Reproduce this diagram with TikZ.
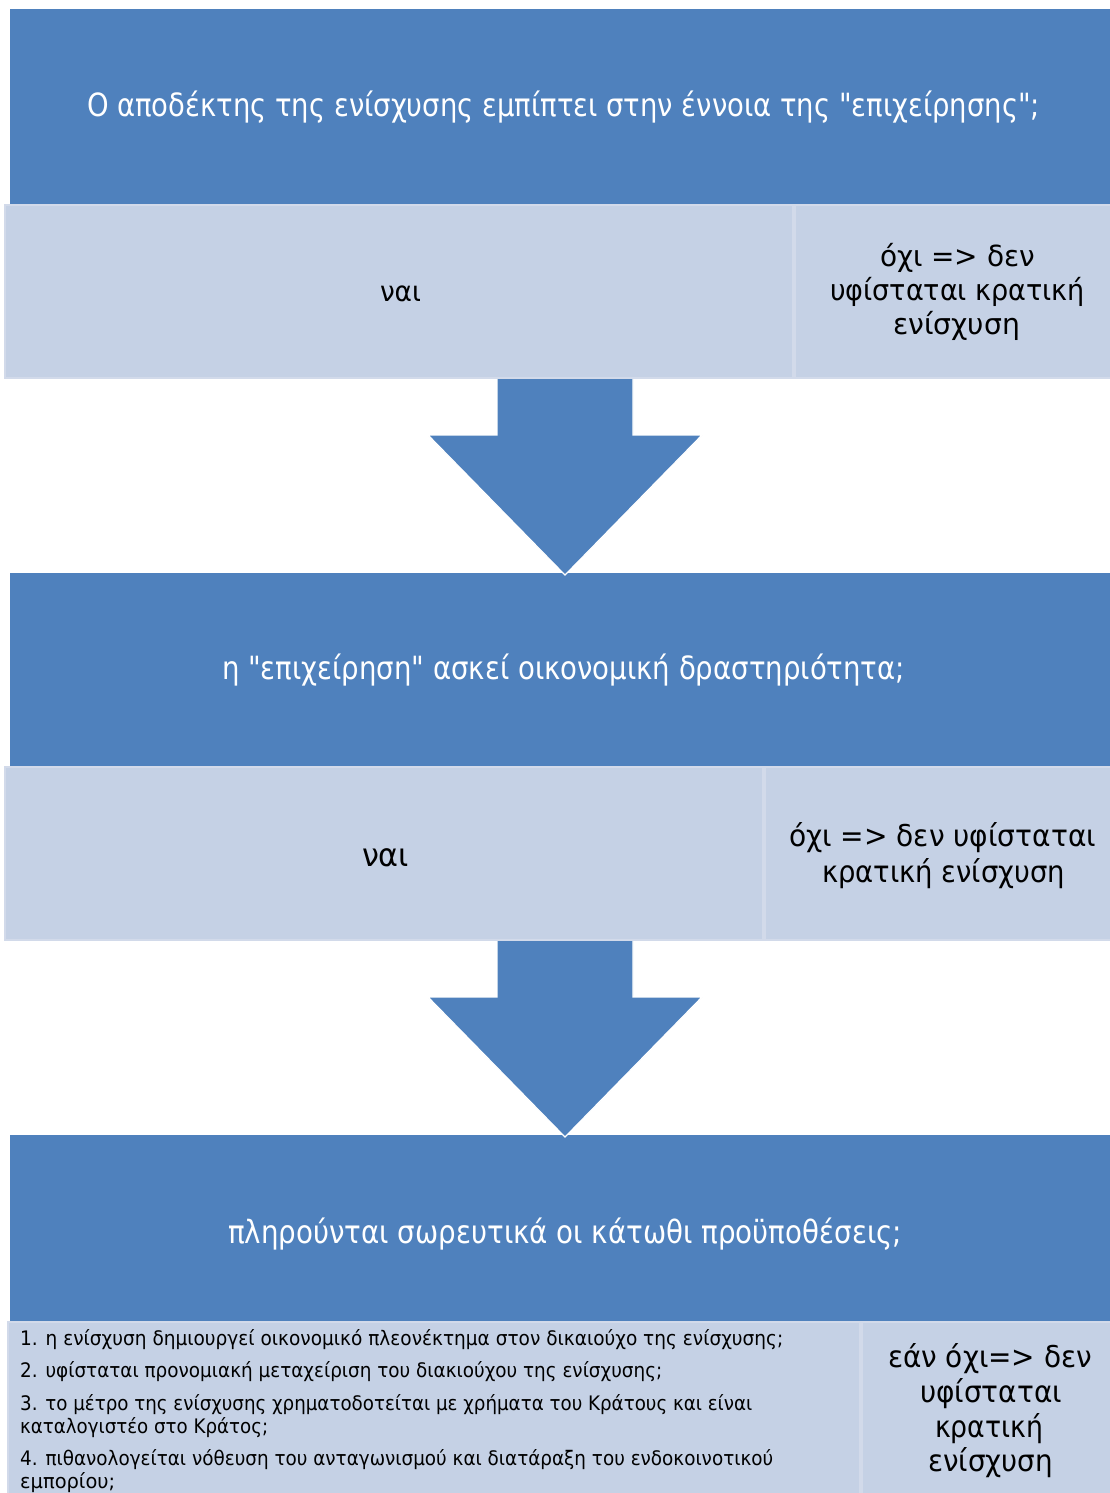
\documentclass[tikz,border=0pt]{standalone}
\usepackage{fontspec}
\setmainfont{DejaVu Sans}
\usetikzlibrary{calc}
\definecolor{bblue}{HTML}{4F81BD}
\definecolor{lfill}{HTML}{C5D1E5}
\definecolor{lline}{HTML}{D2DAEA}
\newcommand\dq{\XeTeXglyph\XeTeXcharglyph"22\relax}
\newsavebox\fitbox
\newlength\fitlen
\newcommand\fitw[2]{\sbox\fitbox{#2}\setlength\fitlen{\wd\fitbox}\pgfmathsetmacro\fitr{#1/\fitlen}\scalebox{\fitr}[1]{\usebox\fitbox}}
\begin{document}
\begin{tikzpicture}[x=1pt,y=-1pt,
  bluebox/.style={rectangle,fill=bblue,draw=none,inner sep=0pt,outer sep=0pt,anchor=north west},
  lightbox/.style={rectangle,fill=lfill,draw=lline,line width=2.5pt,inner sep=0pt,outer sep=0pt,anchor=north west},
  blockarrow/.style={fill=bblue,draw=white,line width=1.2pt,line join=miter},
  wtext/.style={text=white,inner sep=0pt,anchor=base},
  btext/.style={text=black,inner sep=0pt,anchor=base},
  ltext/.style={text=black,inner sep=0pt,anchor=base west,font=\fontsize{20}{24}\selectfont},
  big/.style={font=\fontsize{32}{38}\selectfont},
  mid/.style={font=\fontsize{30}{36}\selectfont}]
\useasboundingbox (0,0) rectangle (1110,1493);
\clip (0,0) rectangle (1110,1493);
\fill[white] (0,0) rectangle (1110,1493);
% blue question boxes
\node[bluebox,minimum width=1110pt,minimum height=195pt] (q1) at (10,9) {};
\node[bluebox,minimum width=1110pt,minimum height=194pt] (q2) at (10,573) {};
\node[bluebox,minimum width=1110pt,minimum height=187pt] (q3) at (10,1135) {};
% arrows
\coordinate (tip1) at ($(q2.north)+(0,2)$);
\coordinate (tip2) at ($(q3.north)+(0,2)$);
\draw[blockarrow] ($(tip1)+(-68,-199)$) -- ++(136,0) -- ++(0,59) -- ++(69,0) -- (tip1) -- ++(-137,-140) -- ++(69,0) -- cycle;
\draw[blockarrow] ($(tip2)+(-68,-199)$) -- ++(136,0) -- ++(0,59) -- ++(69,0) -- (tip2) -- ++(-137,-140) -- ++(69,0) -- cycle;
% light answer boxes
\node[lightbox,minimum width=788pt,minimum height=173pt] (y1) at (5,205) {};
\node[lightbox,minimum width=320pt,minimum height=173pt] (n1) at (795,205) {};
\node[lightbox,minimum width=758pt,minimum height=173pt] (y2) at (5,767) {};
\node[lightbox,minimum width=350pt,minimum height=173pt] (n2) at (765,767) {};
\node[lightbox,minimum width=852pt,minimum height=180pt] (y3) at (8,1322) {};
\node[lightbox,minimum width=253pt,minimum height=180pt] (n3) at (862,1322) {};
% texts
\node[wtext,big] (q1t) at (563.5,117) {\fitw{953}{Ο αποδέκτης της ενίσχυσης εμπίπτει στην έννοια της \dq επιχείρησης\dq;}};
\node[btext,font=\fontsize{28}{34}\selectfont] (y1t) at (400.5,301) {\fitw{41}{ναι}};
\node[btext,font=\fontsize{29}{34}\selectfont] (n1a) at (957.5,266) {\fitw{155}{όχι => δεν}};
\node[btext,font=\fontsize{29}{34}\selectfont] (n1b) at (957.5,300) {\fitw{255}{υφίσταται κρατική}};
\node[btext,font=\fontsize{29}{34}\selectfont] (n1c) at (956.5,334) {\fitw{127}{ενίσχυση}};
\node[wtext,big] (q2t) at (563.5,679) {\fitw{683}{η \dq επιχείρηση\dq{} ασκεί οικονομική δραστηριότητα;}};
\node[btext,big] (y2t) at (385.5,866) {\fitw{47}{ναι}};
\node[btext,mid] (n2a) at (942.5,846) {\fitw{307}{όχι => δεν υφίσταται}};
\node[btext,mid] (n2b) at (943.5,882) {\fitw{243}{κρατική ενίσχυση}};
\node[wtext,big] (q3t) at (565,1243) {\fitw{674}{πληρούνται σωρευτικά οι κάτωθι προϋποθέσεις;}};
\node[ltext] (l1) at (20,1345) {\fitw{763}{1. η ενίσχυση δημιουργεί οικονομικό πλεονέκτημα στον δικαιούχο της ενίσχυσης;}};
\node[ltext] (l2) at (20,1377) {\fitw{642}{2. υφίσταται προνομιακή μεταχείριση του διακιούχου της ενίσχυσης;}};
\node[ltext] (l3a) at (20,1410) {\fitw{732}{3. το μέτρο της ενίσχυσης χρηματοδοτείται με χρήματα του Κράτους και είναι}};
\node[ltext] (l3b) at (20,1433) {\fitw{248}{καταλογιστέο στο Κράτος;}};
\node[ltext] (l4a) at (20,1465) {\fitw{753}{4. πιθανολογείται νόθευση του ανταγωνισμού και διατάραξη του ενδοκοινοτικού}};
\node[ltext] (l4b) at (20,1488) {\fitw{95}{εμπορίου;}};
\node[btext,mid] (n3a) at (990,1367) {\fitw{204}{εάν όχι=> δεν}};
\node[btext,mid] (n3b) at (991,1402) {\fitw{142}{υφίσταται}};
\node[btext,mid] (n3c) at (989,1437) {\fitw{108}{κρατική}};
\node[btext,mid] (n3d) at (990.5,1471) {\fitw{125}{ενίσχυση}};
\end{tikzpicture}
\end{document}
